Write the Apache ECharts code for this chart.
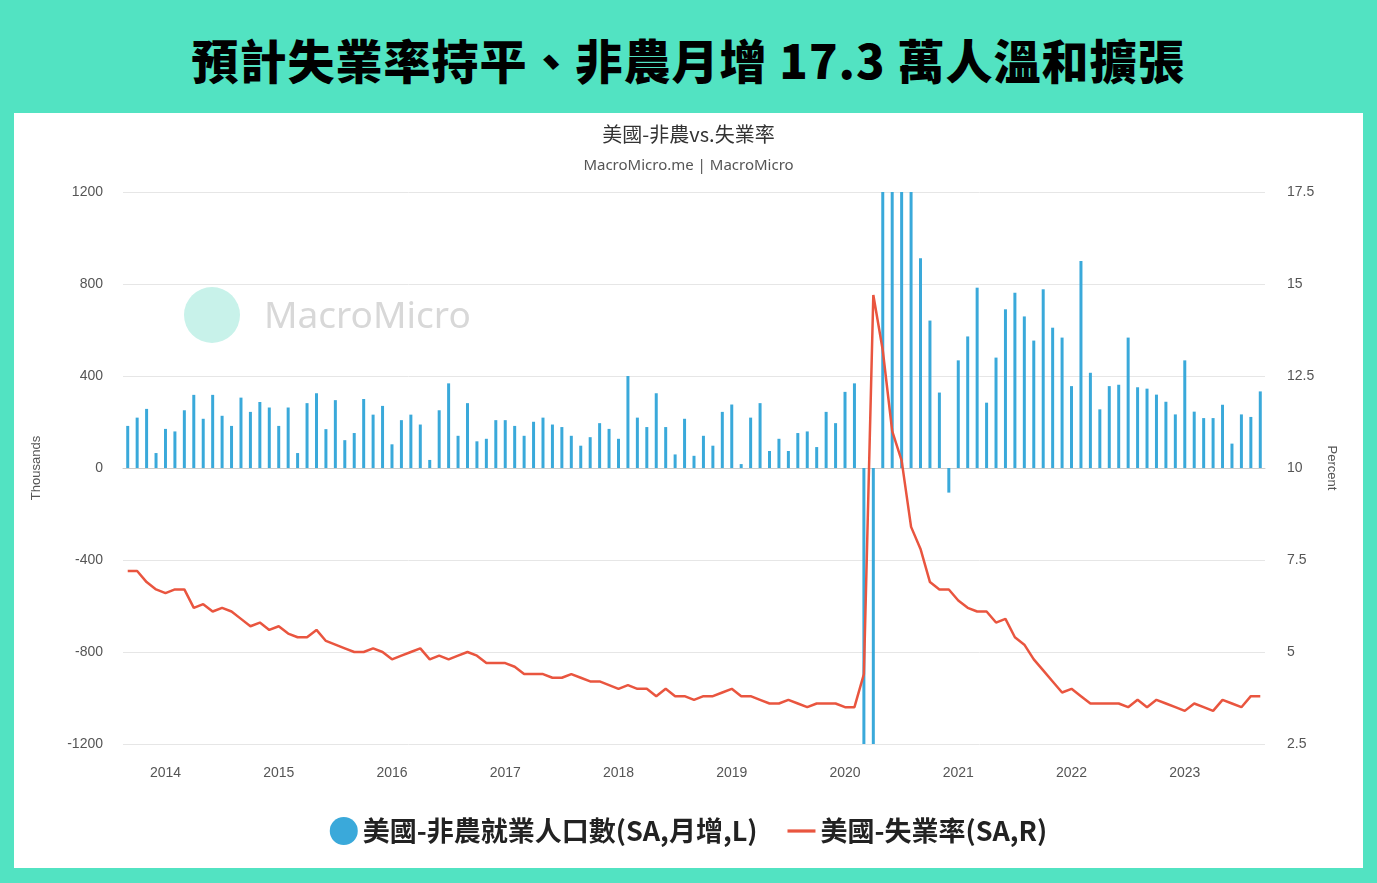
<!DOCTYPE html>
<html><head><meta charset="utf-8">
<script src="https://cdn.jsdelivr.net/npm/echarts@6/dist/echarts.min.js"></script>
<style>
html,body{margin:0;padding:0;width:1377px;height:883px;background:#52e3c2;overflow:hidden;font-family:"Noto Sans CJK TC","Noto Sans",sans-serif}
#t{position:absolute;left:0;top:0;width:1377px;height:113px;line-height:118px;text-align:center;font-size:47px;font-weight:900;color:#000;letter-spacing:1px}
#c{position:absolute;left:14px;top:113px;width:1349px;height:755px;background:#fff}
</style></head><body>
<div id="t">預計失業率持平、非農月增 17.3 萬人溫和擴張</div>
<div id="c"></div>
<script>
const startYear = 2013, startMonth = 9;
const payrolls = [
183,219,257,65, 170,159,251,318,214,318,227,183,306,244,287,263,
183,263,65,282,325,169,295,121,152,300,232,270,
103,208,232,189,35,251,368,140,282,116,127,208,
208,183,140,201,219,189,178,140,97,134,195,170,
127,400,219,178,325,178,59,214,53,140,97,244,
276,17,219,282,74,127,74,152,159,91,244,195,
331,368,-1373,-20493,2725,4781,1726,1583,912,641,328,-107,
468,572,784,284,480,690,762,659,554,777,610,567,
356,900,414,255,356,362,567,351,345,319,288,233,
468,245,217,217,275,106,233,222,333];
const unemployment = [
7.2,7.2,6.9,6.7,
6.6,6.7,6.7,6.2,6.3,6.1,6.2,6.1,5.9,5.7,5.8,5.6,
5.7,5.5,5.4,5.4,5.6,5.3,5.2,5.1,5.0,5.0,5.1,5.0,
4.8,4.9,5.0,5.1,4.8,4.9,4.8,4.9,5.0,4.9,4.7,4.7,
4.7,4.6,4.4,4.4,4.4,4.3,4.3,4.4,4.3,4.2,4.2,4.1,
4.0,4.1,4.0,4.0,3.8,4.0,3.8,3.8,3.7,3.8,3.8,3.9,
4.0,3.8,3.8,3.7,3.6,3.6,3.7,3.6,3.5,3.6,3.6,3.6,
3.5,3.5,4.4,14.7,13.2,11.0,10.2,8.4,7.8,6.9,6.7,6.7,
6.4,6.2,6.1,6.1,5.8,5.9,5.4,5.2,4.8,4.5,4.2,3.9,
4.0,3.8,3.6,3.6,3.6,3.6,3.5,3.7,3.5,3.7,3.6,3.5,
3.4,3.6,3.5,3.4,3.7,3.6,3.5,3.8,3.8];
const months = payrolls.map((_, i) => {
  const m = startMonth - 1 + i;
  const y = startYear + Math.floor(m / 12);
  return y + '-' + String(m % 12 + 1).padStart(2, '0');
});
const recession = ['2020-02', '2020-04'];
const leftTicks = [-1200, 1200, 400];
const rightTicks = [2.5, 17.5, 2.5];

const chart = echarts.init(document.getElementById('c'));
chart.setOption({
  animation: false,
  title: {
    text: '美國-非農vs.失業率', subtext: 'MacroMicro.me | MacroMicro',
    left: 'center', top: 6, itemGap: 14,
    textStyle: {fontSize: 20, fontWeight: 'normal', color: '#333', fontFamily: 'Noto Sans CJK TC'},
    subtextStyle: {fontSize: 15, color: '#555', fontFamily: 'Noto Sans'}
  },
  graphic: [
    {type: 'circle', left: 170, top: 174, shape: {r: 28}, style: {fill: '#c8f2ea'}, z: -1},
    {type: 'text', left: 250, top: 186, style: {text: 'MacroMicro', fontSize: 37, fill: '#d8d8d8', fontFamily: 'Noto Sans'}, z: -1}
  ],
  legend: {
    bottom: 18, itemGap: 30, itemWidth: 28, itemHeight: 28,
    textStyle: {fontSize: 27, fontWeight: 'bold', color: '#222', fontFamily: 'Noto Sans CJK TC'},
    data: [{name: '美國-非農就業人口數(SA,月增,L)', icon: 'circle'}, {name: '美國-失業率(SA,R)', icon: 'path://M0,12h26v3h-26z'}]
  },
  grid: {left: 109, right: 98, top: 79, bottom: 124},
  xAxis: {
    type: 'category', data: months,
    axisLine: {lineStyle: {color: '#ccc'}},
    axisTick: {show: false},
    axisLabel: {
      interval: (i, v) => v.endsWith('-01'),
      formatter: v => v.slice(0, 4), color: '#555', fontSize: 14, margin: 22
    }
  },
  yAxis: [
    {type: 'value', min: leftTicks[0], max: leftTicks[1], interval: leftTicks[2],
     name: 'Thousands', nameLocation: 'middle', nameGap: 80, nameTextStyle: {color: '#555', fontSize: 13},
     axisLabel: {color: '#555', fontSize: 14, margin: 20, formatter: v => String(v)}, splitLine: {lineStyle: {color: '#e6e6e6'}}},
    {type: 'value', min: rightTicks[0], max: rightTicks[1], interval: rightTicks[2],
     name: 'Percent', nameLocation: 'middle', nameGap: 58, nameRotate: -90, nameTextStyle: {color: '#555', fontSize: 13},
     axisLabel: {color: '#555', fontSize: 14, margin: 22, formatter: v => String(v)}, splitLine: {show: false}}
  ],
  series: [
    {name: '美國-非農就業人口數(SA,月增,L)', type: 'bar', data: payrolls, barWidth: 3,
     itemStyle: {color: '#3aa9da'}, clip: true,
     markArea: {silent: true, itemStyle: {color: 'rgba(215,215,215,0.45)'}, data: [[{xAxis: recession[0]}, {xAxis: recession[1]}]]}},
    {name: '美國-失業率(SA,R)', type: 'line', yAxisIndex: 1, data: unemployment, symbol: 'none',
     lineStyle: {color: '#e9553f', width: 2.5}, itemStyle: {color: '#e9553f'}, z: 5}
  ]
});
</script></body></html>
